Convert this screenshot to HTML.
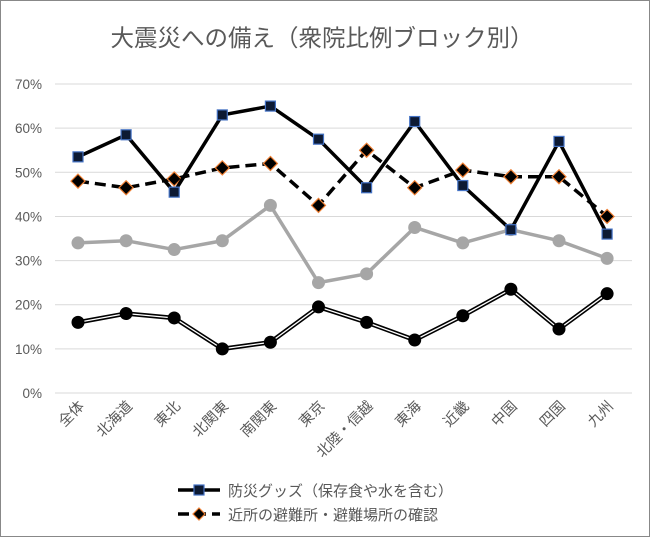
<!DOCTYPE html>
<html><head><meta charset="utf-8">
<style>
body{margin:0;background:#fff;}
#wrap{width:650px;height:537px;position:relative;box-sizing:border-box;border:1px solid #888;background:#fff;}
svg{position:absolute;left:-1px;top:-1px;}
text{font-family:"Liberation Sans","Noto Sans CJK JP",sans-serif;}
</style></head>
<body>
<div id="wrap">
<svg id="chart" width="650" height="537"></svg>
</div>
<script>
const categories=["全体","北海道","東北","北関東","南関東","東京","北陸・信越","東海","近畿","中国","四国","九州"];
const supplies=[53.5,58.5,45.5,63,65,57.5,46.5,61.5,47,37,57,36];
const shelter=[48,46.5,48.5,51,52,42.5,55,46.5,50.5,49,49,40];
const graySeries=[34,34.5,32.5,34.5,42.5,25,27,37.5,34,37,34.5,30.5];
const lowSeries=[16,18,17,10,11.5,19.5,16,12,17.5,23.5,14.5,22.5];
const yTicks=[0,10,20,30,40,50,60,70];
const yTickLabels=["0%","10%","20%","30%","40%","50%","60%","70%"];

const NS="http://www.w3.org/2000/svg";
const svg=document.getElementById('chart');
const x0=78,dx=48.1,yBase=393,pxPer=4.414;
const xs=i=>x0+i*dx;
const ys=v=>yBase-v*pxPer;
function mk(t,a,p){const e=document.createElementNS(NS,t);for(const k in a)e.setAttribute(k,a[k]);(p||svg).appendChild(e);return e;}

const title=mk('text',{x:322,y:46,'text-anchor':'middle','font-size':23.5,fill:'#595959'});
title.textContent="大震災への備え（衆院比例ブロック別）";



yTicks.forEach((t,i)=>{
  const g=mk('line',{x1:55,x2:632,y1:ys(t),y2:ys(t),stroke:'#d9d9d9','stroke-width':1});
  
  
  const l=mk('text',{x:42,y:ys(t)+5,'text-anchor':'end','font-size':13.5,fill:'#595959'});
  l.textContent=yTickLabels[i];
  
  
});
categories.forEach((c,i)=>{
  const l=mk('text',{x:xs(i)+7,y:407,'text-anchor':'end','font-size':14.5,fill:'#595959',transform:`rotate(-45 ${xs(i)+7} 407)`});
  l.textContent=c;
  
  
});
const pts=arr=>arr.map((v,i)=>xs(i)+','+ys(v)).join(' ');

let p=mk('polyline',{points:pts(lowSeries),fill:'none',stroke:'#000','stroke-width':4.5,'stroke-linejoin':'round'});


p=mk('polyline',{points:pts(lowSeries),fill:'none',stroke:'#fff','stroke-width':1.3,'stroke-linejoin':'round'});


lowSeries.forEach((v,i)=>{const c=mk('circle',{cx:xs(i),cy:ys(v),r:6.5,fill:'#000'});

});

p=mk('polyline',{points:pts(graySeries),fill:'none',stroke:'#a6a6a6','stroke-width':3.5,'stroke-linejoin':'round'});


graySeries.forEach((v,i)=>{const c=mk('circle',{cx:xs(i),cy:ys(v),r:6.5,fill:'#a6a6a6'});

});

p=mk('polyline',{points:pts(shelter),fill:'none',stroke:'#000','stroke-width':3.5,'stroke-dasharray':'11 6','stroke-linejoin':'round'});


shelter.forEach((v,i)=>{const x=xs(i),y=ys(v);const d=mk('polygon',{points:`${x},${y-7} ${x+7},${y} ${x},${y+7} ${x-7},${y}`,fill:'#000',stroke:'#ed7d31','stroke-width':1.2});

});

p=mk('polyline',{points:pts(supplies),fill:'none',stroke:'#000','stroke-width':3.5,'stroke-linejoin':'round'});


supplies.forEach((v,i)=>{const r=mk('rect',{x:xs(i)-5,y:ys(v)-5,width:10,height:10,fill:'#0d1a33',stroke:'#4472c4','stroke-width':1.2});

});

let g=mk('g',{});


mk('line',{x1:178,x2:220,y1:490,y2:490,stroke:'#000','stroke-width':3.5},g);
mk('rect',{x:194,y:485,width:10,height:10,fill:'#0d1a33',stroke:'#4472c4','stroke-width':1.2},g);
let t=mk('text',{x:228,y:496,'font-size':15,fill:'#595959'},g);t.textContent="防災グッズ（保存食や水を含む）";
g=mk('g',{});


mk('line',{x1:178,x2:220,y1:514,y2:514,stroke:'#000','stroke-width':3.5,'stroke-dasharray':'11 6'},g);
mk('polygon',{points:'199,508 205,514 199,520 193,514',fill:'#000',stroke:'#ed7d31','stroke-width':1.2},g);
t=mk('text',{x:228,y:520,'font-size':15,fill:'#595959'},g);t.textContent="近所の避難所・避難場所の確認";
</script>
</body></html>
